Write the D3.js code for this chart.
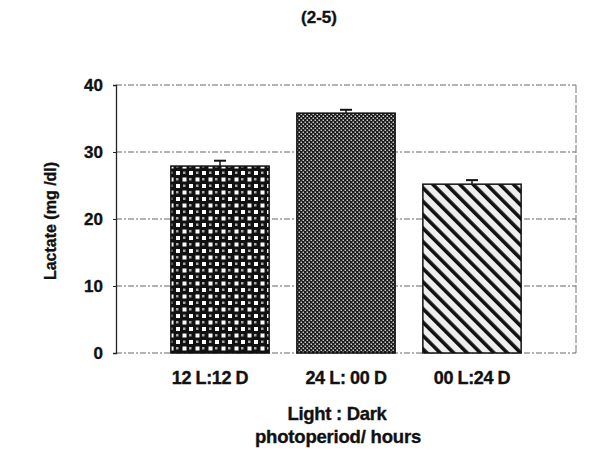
<!DOCTYPE html>
<html>
<head>
<meta charset="utf-8">
<script src="https://cdn.jsdelivr.net/npm/d3@7"></script>
<style>
  body { margin: 0; background: #fff; }
  text { font-family: "Liberation Sans", Arial, sans-serif; font-weight: bold; fill: #111; stroke: #111; stroke-width: 0.35px; }
</style>
</head>
<body>
<div id="chart"></div>
<script>
var categories = ["12 L:12 D", "24 L: 00 D", "00 L:24 D"];
var lactate = [27.9, 35.8, 25.2];
var errors = [0.8, 0.5, 0.6];
var yTicks = [0, 10, 20, 30, 40];
var patterns = ["dots", "checks", "stripes"];

var data = categories.map(function(c, i) {
  return {key: c, value: lactate[i], err: errors[i], pat: patterns[i]};
});

var chartWidth = 606, chartHeight = 452,
    margin = {top: 85, right: 30, bottom: 99, left: 116},
    width = chartWidth - margin.left - margin.right,
    height = chartHeight - margin.top - margin.bottom;

var svg = d3.select("#chart").append("svg")
    .attr("width", chartWidth)
    .attr("height", chartHeight);

// fill patterns
var defs = svg.append("defs");

var p1 = defs.append("pattern").attr("id", "dots")
    .attr("patternUnits", "userSpaceOnUse").attr("width", 13).attr("height", 13);
p1.append("rect").attr("width", 13).attr("height", 13).attr("fill", "#111");
p1.append("rect").attr("x", 1.5).attr("y", 1.5).attr("width", 4).attr("height", 4).attr("fill", "#fff");
p1.append("rect").attr("x", 8).attr("y", 8).attr("width", 4).attr("height", 4).attr("fill", "#fff");
p1.append("rect").attr("x", 8).attr("y", 2).attr("width", 2.5).attr("height", 2.5).attr("fill", "#aaa");
p1.append("rect").attr("x", 2).attr("y", 8.5).attr("width", 2.5).attr("height", 2.5).attr("fill", "#aaa");

var p2 = defs.append("pattern").attr("id", "checks")
    .attr("patternUnits", "userSpaceOnUse").attr("width", 4).attr("height", 4);
p2.append("rect").attr("width", 4).attr("height", 4).attr("fill", "#1a1a1a");
p2.append("rect").attr("x", 0.5).attr("y", 0.5).attr("width", 1.5).attr("height", 1.5).attr("fill", "#ccc");
p2.append("rect").attr("x", 2.5).attr("y", 2.5).attr("width", 1.5).attr("height", 1.5).attr("fill", "#ccc");

var p3 = defs.append("pattern").attr("id", "stripes")
    .attr("patternUnits", "userSpaceOnUse").attr("width", 9.5).attr("height", 9.5)
    .attr("patternTransform", "rotate(-45)");
p3.append("rect").attr("width", 9.5).attr("height", 9.5).attr("fill", "#eee");
p3.append("rect").attr("x", 0).attr("width", 3.6).attr("height", 9.5).attr("fill", "#111");

var g = svg.append("g")
    .attr("transform", "translate(" + margin.left + "," + margin.top + ")");

var x = d3.scaleBand().domain(categories).range([41, 419]).paddingInner(0.22).paddingOuter(0.11),
    y = d3.scaleLinear().domain([0, 40]).range([height, 0]);

// grid lines
g.selectAll(".grid")
  .data(yTicks.filter(function(t) { return t > 0; }))
  .enter().append("line")
    .attr("x1", 0).attr("x2", width)
    .attr("y1", function(d) { return y(d); })
    .attr("y2", function(d) { return y(d); })
    .attr("stroke", "#666")
    .attr("stroke-width", 1)
    .attr("stroke-dasharray", "6,2,2,2");

// right border and bottom
g.append("line").attr("x1", width).attr("x2", width).attr("y1", 0).attr("y2", height)
  .attr("stroke", "#777").attr("stroke-dasharray", "8,2");
g.append("line").attr("x1", 0).attr("x2", width).attr("y1", height).attr("y2", height)
  .attr("stroke", "#666").attr("stroke-dasharray", "6,2,2,2");

// y axis
var yAxis = g.append("g")
    .call(d3.axisLeft(y).tickValues(yTicks).tickSize(3).tickPadding(10));
yAxis.select(".domain").attr("stroke", "#222").attr("stroke-width", 1.3);
yAxis.selectAll(".tick line").attr("stroke", "#222");
yAxis.selectAll("text")
    .style("font-size", "17px")
    .style("font-weight", "bold")
    .style("font-family", "'Liberation Sans', Arial, sans-serif");

// bars
g.selectAll(".bar")
  .data(data)
  .enter().append("rect")
    .attr("class", "bar")
    .attr("x", function(d) { return x(d.key); })
    .attr("y", function(d) { return y(d.value); })
    .attr("width", x.bandwidth())
    .attr("height", function(d) { return y(0) - y(d.value); })
    .attr("fill", function(d) { return "url(#" + d.pat + ")"; })
    .attr("stroke", "#111")
    .attr("stroke-width", 1.5);

// error bars
var eb = g.selectAll(".err")
  .data(data)
  .enter().append("g").attr("class", "err");
eb.append("line")
    .attr("x1", function(d) { return x(d.key) + x.bandwidth() / 2; })
    .attr("x2", function(d) { return x(d.key) + x.bandwidth() / 2; })
    .attr("y1", function(d) { return y(d.value); })
    .attr("y2", function(d) { return y(d.value + d.err); })
    .attr("stroke", "#111").attr("stroke-width", 1.5);
eb.append("line")
    .attr("x1", function(d) { return x(d.key) + x.bandwidth() / 2 - 6; })
    .attr("x2", function(d) { return x(d.key) + x.bandwidth() / 2 + 6; })
    .attr("y1", function(d) { return y(d.value + d.err); })
    .attr("y2", function(d) { return y(d.value + d.err); })
    .attr("stroke", "#111").attr("stroke-width", 2);

// category labels
g.selectAll(".cat")
  .data(categories)
  .enter().append("text")
    .attr("x", function(d, i) { return x(d) + x.bandwidth() / 2 - (i === 0 ? 10 : 0); })
    .attr("y", height + 31)
    .attr("text-anchor", "middle")
    .style("font-size", "18px")
    .style("letter-spacing", "-0.4px")
    .text(function(d) { return d; });

// axis titles
svg.append("text")
    .attr("transform", "translate(56,221) rotate(-90)")
    .attr("text-anchor", "middle")
    .style("font-size", "16px")
    .text("Lactate (mg /dl)");

svg.append("text")
    .attr("x", 337).attr("y", 420)
    .attr("text-anchor", "middle")
    .style("font-size", "18.5px")
    .style("letter-spacing", "-0.3px")
    .text("Light : Dark");

svg.append("text")
    .attr("x", 338).attr("y", 443)
    .attr("text-anchor", "middle")
    .style("font-size", "18.5px")
    .style("letter-spacing", "-0.2px")
    .text("photoperiod/ hours");

svg.append("text")
    .attr("x", 319).attr("y", 23)
    .attr("text-anchor", "middle")
    .style("font-size", "17px")
    .text("(2-5)");
</script>
</body>
</html>
